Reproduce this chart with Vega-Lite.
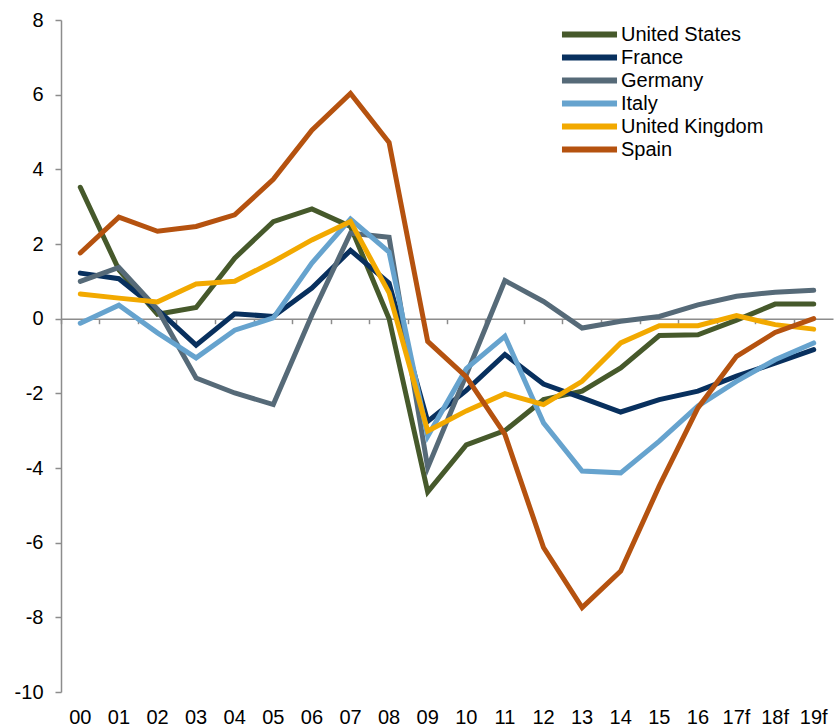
{
  "$schema": "https://vega.github.io/schema/vega-lite/v6.json",
  "width": 772,
  "height": 672,
  "autosize": {"type": "none"},
  "padding": {"left": 61, "top": 20, "right": 2, "bottom": 36},
  "background": "white",
  "config": {
    "view": {"stroke": null},
    "font": "Liberation Sans",
    "axis": {"grid": false, "labelColor": "#000000", "labelFont": "Liberation Sans", "labelFontSize": 20, "domainColor": "#8c8c8c", "tickColor": "#8c8c8c", "domainWidth": 1.5, "tickWidth": 1.5},
    "legend": {"labelFont": "Liberation Sans"}
  },
  "data": {"values": [
    {"year": "00", "country": "United States", "value": 3.52},
    {"year": "01", "country": "United States", "value": 1.31},
    {"year": "02", "country": "United States", "value": 0.12},
    {"year": "03", "country": "United States", "value": 0.30},
    {"year": "04", "country": "United States", "value": 1.62},
    {"year": "05", "country": "United States", "value": 2.60},
    {"year": "06", "country": "United States", "value": 2.94},
    {"year": "07", "country": "United States", "value": 2.47},
    {"year": "08", "country": "United States", "value": 0.0},
    {"year": "09", "country": "United States", "value": -4.64},
    {"year": "10", "country": "United States", "value": -3.38},
    {"year": "11", "country": "United States", "value": -3.0},
    {"year": "12", "country": "United States", "value": -2.17},
    {"year": "13", "country": "United States", "value": -1.94},
    {"year": "14", "country": "United States", "value": -1.32},
    {"year": "15", "country": "United States", "value": -0.45},
    {"year": "16", "country": "United States", "value": -0.43},
    {"year": "17f", "country": "United States", "value": -0.04},
    {"year": "18f", "country": "United States", "value": 0.39},
    {"year": "19f", "country": "United States", "value": 0.39},
    {"year": "00", "country": "France", "value": 1.22},
    {"year": "01", "country": "France", "value": 1.07},
    {"year": "02", "country": "France", "value": 0.24},
    {"year": "03", "country": "France", "value": -0.71},
    {"year": "04", "country": "France", "value": 0.13},
    {"year": "05", "country": "France", "value": 0.06},
    {"year": "06", "country": "France", "value": 0.82},
    {"year": "07", "country": "France", "value": 1.83},
    {"year": "08", "country": "France", "value": 0.95},
    {"year": "09", "country": "France", "value": -2.75},
    {"year": "10", "country": "France", "value": -1.92},
    {"year": "11", "country": "France", "value": -0.96},
    {"year": "12", "country": "France", "value": -1.75},
    {"year": "13", "country": "France", "value": -2.12},
    {"year": "14", "country": "France", "value": -2.50},
    {"year": "15", "country": "France", "value": -2.17},
    {"year": "16", "country": "France", "value": -1.94},
    {"year": "17f", "country": "France", "value": -1.54},
    {"year": "18f", "country": "France", "value": -1.19},
    {"year": "19f", "country": "France", "value": -0.83},
    {"year": "00", "country": "Germany", "value": 1.0},
    {"year": "01", "country": "Germany", "value": 1.37},
    {"year": "02", "country": "Germany", "value": 0.25},
    {"year": "03", "country": "Germany", "value": -1.59},
    {"year": "04", "country": "Germany", "value": -1.99},
    {"year": "05", "country": "Germany", "value": -2.30},
    {"year": "06", "country": "Germany", "value": 0.1},
    {"year": "07", "country": "Germany", "value": 2.29},
    {"year": "08", "country": "Germany", "value": 2.18},
    {"year": "09", "country": "Germany", "value": -3.99},
    {"year": "10", "country": "Germany", "value": -1.5},
    {"year": "11", "country": "Germany", "value": 1.02},
    {"year": "12", "country": "Germany", "value": 0.46},
    {"year": "13", "country": "Germany", "value": -0.25},
    {"year": "14", "country": "Germany", "value": -0.07},
    {"year": "15", "country": "Germany", "value": 0.06},
    {"year": "16", "country": "Germany", "value": 0.37},
    {"year": "17f", "country": "Germany", "value": 0.60},
    {"year": "18f", "country": "Germany", "value": 0.71},
    {"year": "19f", "country": "Germany", "value": 0.76},
    {"year": "00", "country": "Italy", "value": -0.12},
    {"year": "01", "country": "Italy", "value": 0.36},
    {"year": "02", "country": "Italy", "value": -0.38},
    {"year": "03", "country": "Italy", "value": -1.05},
    {"year": "04", "country": "Italy", "value": -0.31},
    {"year": "05", "country": "Italy", "value": 0.02},
    {"year": "06", "country": "Italy", "value": 1.49},
    {"year": "07", "country": "Italy", "value": 2.67},
    {"year": "08", "country": "Italy", "value": 1.78},
    {"year": "09", "country": "Italy", "value": -3.15},
    {"year": "10", "country": "Italy", "value": -1.34},
    {"year": "11", "country": "Italy", "value": -0.47},
    {"year": "12", "country": "Italy", "value": -2.79},
    {"year": "13", "country": "Italy", "value": -4.08},
    {"year": "14", "country": "Italy", "value": -4.13},
    {"year": "15", "country": "Italy", "value": -3.28},
    {"year": "16", "country": "Italy", "value": -2.34},
    {"year": "17f", "country": "Italy", "value": -1.68},
    {"year": "18f", "country": "Italy", "value": -1.10},
    {"year": "19f", "country": "Italy", "value": -0.65},
    {"year": "00", "country": "United Kingdom", "value": 0.66},
    {"year": "01", "country": "United Kingdom", "value": 0.55},
    {"year": "02", "country": "United Kingdom", "value": 0.45},
    {"year": "03", "country": "United Kingdom", "value": 0.93},
    {"year": "04", "country": "United Kingdom", "value": 1.0},
    {"year": "05", "country": "United Kingdom", "value": 1.53},
    {"year": "06", "country": "United Kingdom", "value": 2.11},
    {"year": "07", "country": "United Kingdom", "value": 2.60},
    {"year": "08", "country": "United Kingdom", "value": 0.69},
    {"year": "09", "country": "United Kingdom", "value": -3.01},
    {"year": "10", "country": "United Kingdom", "value": -2.47},
    {"year": "11", "country": "United Kingdom", "value": -2.01},
    {"year": "12", "country": "United Kingdom", "value": -2.30},
    {"year": "13", "country": "United Kingdom", "value": -1.68},
    {"year": "14", "country": "United Kingdom", "value": -0.65},
    {"year": "15", "country": "United Kingdom", "value": -0.19},
    {"year": "16", "country": "United Kingdom", "value": -0.19},
    {"year": "17f", "country": "United Kingdom", "value": 0.08},
    {"year": "18f", "country": "United Kingdom", "value": -0.16},
    {"year": "19f", "country": "United Kingdom", "value": -0.28},
    {"year": "00", "country": "Spain", "value": 1.76},
    {"year": "01", "country": "Spain", "value": 2.72},
    {"year": "02", "country": "Spain", "value": 2.34},
    {"year": "03", "country": "Spain", "value": 2.47},
    {"year": "04", "country": "Spain", "value": 2.78},
    {"year": "05", "country": "Spain", "value": 3.73},
    {"year": "06", "country": "Spain", "value": 5.05},
    {"year": "07", "country": "Spain", "value": 6.03},
    {"year": "08", "country": "Spain", "value": 4.72},
    {"year": "09", "country": "Spain", "value": -0.61},
    {"year": "10", "country": "Spain", "value": -1.56},
    {"year": "11", "country": "Spain", "value": -3.10},
    {"year": "12", "country": "Spain", "value": -6.13},
    {"year": "13", "country": "Spain", "value": -7.74},
    {"year": "14", "country": "Spain", "value": -6.76},
    {"year": "15", "country": "Spain", "value": -4.48},
    {"year": "16", "country": "Spain", "value": -2.39},
    {"year": "17f", "country": "Spain", "value": -1.01},
    {"year": "18f", "country": "Spain", "value": -0.37},
    {"year": "19f", "country": "Spain", "value": 0.0}
  ]},
  "resolve": {"axis": {"x": "independent"}},
  "layer": [
    {
      "mark": {"type": "line", "strokeWidth": 5, "strokeCap": "round"},
      "encoding": {
        "x": {
          "field": "year", "type": "ordinal", "sort": null,
          "bandPosition": 0.5,
          "scale": {"type": "band", "paddingInner": 0, "paddingOuter": 0},
          "axis": {"orient": "bottom", "offset": -373.3, "labels": false, "ticks": true, "tickSize": 5, "domain": true, "bandPosition": 0, "title": null}
        },
        "y": {
          "field": "value", "type": "quantitative",
          "scale": {"domain": [-10, 8], "nice": false, "zero": false},
          "axis": {"values": [-10, -8, -6, -4, -2, 0, 2, 4, 6, 8], "title": null, "tickSize": 6, "labelPadding": 12, "labelExpr": "toString(datum.value)"}
        },
        "color": {
          "field": "country", "type": "nominal",
          "scale": {
            "domain": ["United States", "France", "Germany", "Italy", "United Kingdom", "Spain"],
            "range": ["#46592b", "#08305e", "#566a78", "#66a3ce", "#f2a900", "#b5520f"]
          },
          "legend": {
            "title": null, "orient": "none", "legendX": 517.5, "legendY": 3.5,
            "padding": 0, "rowPadding": -1.2, "symbolType": "M-3.44,0H3.44", "symbolSize": 256,
            "symbolStrokeWidth": 6, "labelFontSize": 20, "labelColor": "#000000", "labelOffset": 20.5
          }
        }
      }
    },
    {
      "mark": {"type": "line", "opacity": 0},
      "encoding": {
        "x": {
          "field": "year", "type": "ordinal", "sort": null,
          "axis": {"orient": "bottom", "labels": true, "ticks": false, "domain": false, "labelPadding": 15, "labelAngle": 0, "title": null}
        },
        "y": {"field": "value", "type": "quantitative"},
        "detail": {"field": "country"}
      }
    }
  ]
}
